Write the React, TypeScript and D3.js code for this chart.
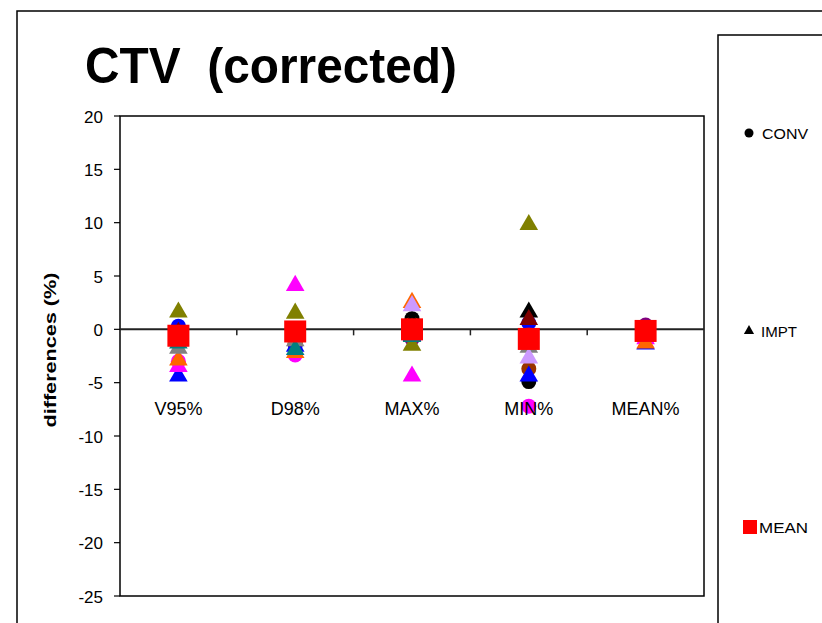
import React from "react";
import * as d3 from "d3";

const categories = ["V95%", "D98%", "MAX%", "MIN%", "MEAN%"];
const yTicks = [20, 15, 10, 5, 0, -5, -10, -15, -20, -25];

// CONV series (circles)
const convColors = ["#000000", "#0000FF", "#FF00FF", "#993300", "#800080", "#FF6600"];
const convBlack = [0.2, -1.0, 1.0, -4.9, 0.2];
const convBlue = [0.3, -1.5, 0.3, 0.6, 0.1];
const convMagenta = [-3.0, -2.4, -0.5, -7.2, -0.2];
const convBrown = [-0.5, -1.3, 0.4, -3.7, 0.0];
const convPurple = [-0.3, -0.8, -0.9, -0.5, 0.4];
const convOrange = [-1.0, -1.2, 0.5, -0.8, -0.3];
const convValues = [convBlack, convBlue, convMagenta, convBrown, convPurple, convOrange];

// IMPT series (triangles)
const imptColors = ["#000000", "#0000FF", "#808000", "#FF00FF", "#FF6600", "#808080", "#CC99FF", "#008080", "#800000"];
const imptBlack = [-0.5, -0.5, 0.8, 1.7, -0.2];
const imptBlue = [-4.3, -1.5, -0.5, -4.3, -1.3];
const imptOlive = [1.7, 1.6, -1.4, 9.9, -0.5];
const imptMagenta = [-3.4, 4.2, -4.3, -0.8, -0.8];
const imptOrange = [-2.8, -2.1, 2.6, -1.0, -1.2];
const imptGrey = [-1.7, -1.0, -0.3, -1.6, -0.6];
const imptLavender = [-1.0, -0.6, 2.3, -2.6, -0.4];
const imptTeal = [-1.2, -1.8, -0.6, -1.2, -0.5];
const imptDarkRed = [-0.2, -0.3, 0.2, 1.0, -0.3];
const imptValues = [imptBlack, imptBlue, imptOlive, imptMagenta, imptOrange, imptGrey, imptLavender, imptTeal, imptDarkRed];

// MEAN series (squares)
const meanValues = [-0.6, -0.2, 0.0, -0.9, -0.15];

const legendItems = ["CONV", "IMPT", "MEAN"];

const W = 822;
const H = 623;
const plotL = 120;
const plotR = 704;
const plotT = 116;
const plotB = 596;

export default function App() {
  const x = d3.scaleBand<string>().domain(categories).range([plotL, plotR]).padding(0);
  const y = d3.scaleLinear().domain([-25, 20]).range([plotB, plotT]);
  const cx = (c: string) => (x(c) as number) + x.bandwidth() / 2;
  const y0 = y(0);
  const tri = d3.symbol().type(d3.symbolTriangle).size(150)();
  const font = "Arial, 'Liberation Sans', sans-serif";

  return (
    <div style={{ position: "absolute", left: 0, top: 0 }}>
      <svg width={W} height={H} style={{ display: "block", background: "#fff" }}>
        {/* outer chart border */}
        <rect x={17} y={11} width={W + 20} height={H + 20} fill="none" stroke="#000" strokeWidth={1.5} />
        {/* title */}
        <text x={85} y={83} fontFamily={font} fontWeight="bold" fontSize={50} fill="#000" textLength={372} lengthAdjust="spacingAndGlyphs">
          {"CTV\u00A0\u00A0(corrected)"}
        </text>
        {/* plot frame */}
        <rect x={plotL} y={plotT} width={plotR - plotL} height={plotB - plotT} fill="none" stroke="#000" strokeWidth={1.5} />
        {/* y axis ticks + labels */}
        {yTicks.map((t) => (
          <g key={t}>
            <line x1={plotL - 6} x2={plotL} y1={y(t)} y2={y(t)} stroke="#000" strokeWidth={1.2} />
            <text x={103} y={y(t) + 6.5} textAnchor="end" fontFamily={font} fontSize={17} fill="#000">
              {t}
            </text>
          </g>
        ))}
        <text
          transform={`translate(56,350) rotate(-90)`}
          textAnchor="middle"
          fontFamily={font}
          fontWeight="bold"
          fontSize={16}
          textLength={155}
          lengthAdjust="spacingAndGlyphs"
          fill="#000"
        >
          differences (%)
        </text>
        {/* zero axis line */}
        <line x1={plotL} x2={plotR} y1={y0} y2={y0} stroke="#222" strokeWidth={2} />
        {categories.slice(1).map((c) => (
          <line key={c} x1={x(c) as number} x2={x(c) as number} y1={y0} y2={y0 + 6} stroke="#222" strokeWidth={1.5} />
        ))}
        {/* CONV circles */}
        {convValues.map((vals, i) =>
          vals.map((v, j) => (
            <circle key={`c${i}-${j}`} cx={cx(categories[j])} cy={y(v)} r={7.5} fill={convColors[i]} />
          ))
        )}
        {/* IMPT triangles */}
        {imptValues.map((vals, i) =>
          vals.map((v, j) => (
            <path key={`t${i}-${j}`} d={tri as string} transform={`translate(${cx(categories[j])},${y(v) + 1})`} fill={imptColors[i]} />
          ))
        )}
        {/* MEAN squares */}
        {meanValues.map((v, j) => (
          <rect key={`m${j}`} x={cx(categories[j]) - 11} y={y(v) - 11} width={22} height={22} fill="#FF0000" />
        ))}
        {/* category labels (drawn above markers) */}
        {categories.map((c) => (
          <text key={c} x={cx(c)} y={415} textAnchor="middle" fontFamily={font} fontSize={18} fill="#000">
            {c}
          </text>
        ))}
        {/* legend */}
        <rect x={718} y={35} width={200} height={700} fill="#fff" stroke="#000" strokeWidth={1.5} />
        <circle cx={749} cy={133} r={4.5} fill="#000" />
        <text x={762} y={139} fontFamily={font} fontSize={15} textLength={46} lengthAdjust="spacingAndGlyphs" fill="#000">{legendItems[0]}</text>
        <path d={d3.symbol().type(d3.symbolTriangle).size(45)() as string} transform="translate(749,331)" fill="#000" />
        <text x={761} y={337} fontFamily={font} fontSize={15} textLength={36} lengthAdjust="spacingAndGlyphs" fill="#000">{legendItems[1]}</text>
        <rect x={743} y={520} width={14} height={14} fill="#FF0000" />
        <text x={759} y={533} fontFamily={font} fontSize={15} textLength={49} lengthAdjust="spacingAndGlyphs" fill="#000">{legendItems[2]}</text>
      </svg>
    </div>
  );
}
